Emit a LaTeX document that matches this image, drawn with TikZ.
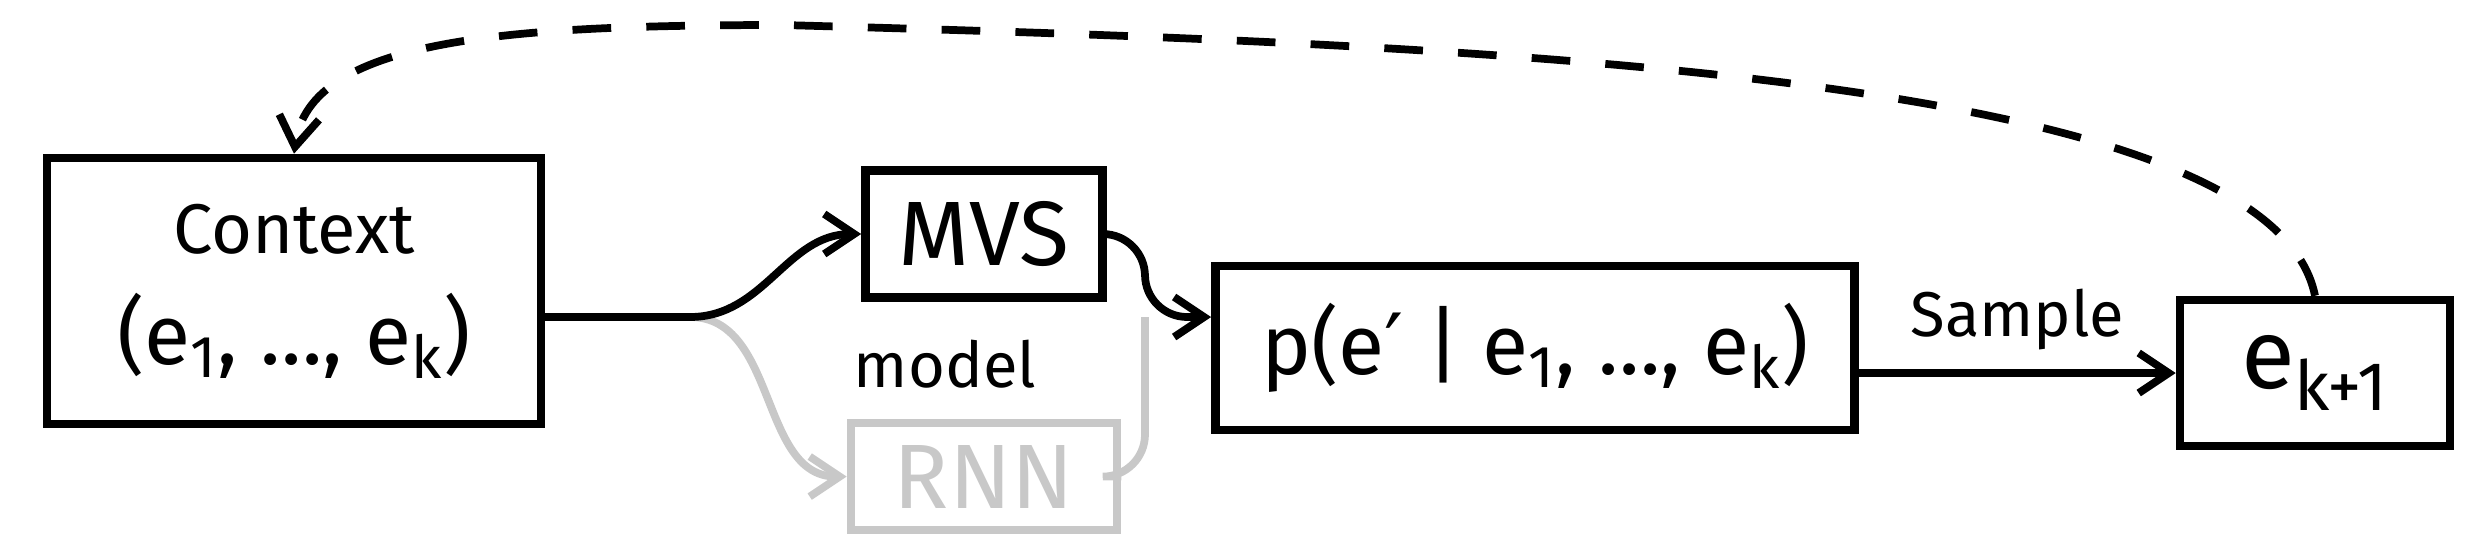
\documentclass[tikz,border=0pt]{standalone}
\usepackage{fontspec}
\setmainfont{Fira Sans}
\newfontfamily\symfont{DejaVu Sans}
\usepackage{tikz}
\usetikzlibrary{positioning,arrows.meta}
\usepackage{xcolor}
\definecolor{InkBlack}{RGB}{0,0,0}
\definecolor{InkGray}{RGB}{200,200,200}

\begin{document}
\begin{tikzpicture}[x=0.01cm, y=0.01cm,
    box/.style={rectangle, draw=InkBlack, line width=2.4pt, inner sep=0pt,
        align=center, text=InkBlack},
    faded/.style={box, draw=InkGray, text=InkGray},
    arr/.style={-{Straight Barb[length=3mm, width=4mm]}, line width=2.2pt, InkBlack},
    grayarr/.style={arr, InkGray},
    lbl/.style={font=\fontsize{18}{22}\selectfont, text=InkBlack},
]
\useasboundingbox (0,0) rectangle (2482,544);

\node[box, minimum width=4.94cm, minimum height=2.66cm] (ctx) at (294,253)
    {{\fontsize{20}{24}\selectfont Context}\\[10pt]
     {\fontsize{24}{28}\selectfont (e\textsubscript{1}, …, e\textsubscript{k})}};
\node[box, minimum width=2.37cm, minimum height=1.27cm,
    font=\fontsize{26}{30}\selectfont] (mvs) at (984,310) {MVS};
\node[faded, minimum width=2.66cm, minimum height=1.07cm,
    font=\fontsize{26}{30}\selectfont, below=1.17cm of mvs] (rnn) {RNN};
\node[lbl] (mdl) at (945,180) {model};
\node[box, minimum width=6.39cm, minimum height=1.64cm,
    font=\fontsize{24}{28}\selectfont] (prob) at (1535,196)
    {p(e{\symfont ′} | e\textsubscript{1}, …, e\textsubscript{k})};
\node[box, minimum width=2.70cm, minimum height=1.46cm,
    font=\fontsize{28}{32}\selectfont] (next) at (2315,171)
    {e\textsubscript{k+1}};

\coordinate (split) at (690,227);
\coordinate (join) at (1145,227);

% grey branch first, black on top
\draw[grayarr] (split) to[out=0, in=180] (rnn.west);
\draw[InkGray, line width=2.2pt, rounded corners=12pt] (rnn.east) -| (join);

\draw[line width=2.2pt] (ctx.east |- split) -- (split);
\draw[arr] (split) to[out=0, in=180] (mvs.west);
\draw[arr, rounded corners=12pt] (mvs.east) -| (join) -- (prob.west |- join);
\draw[arr] (prob.east |- next.west) -- node[lbl, above=2pt] {Sample} (next.west);

% feedback loop
\draw[arr, dash pattern=on 11pt off 10pt] (next.north)
    .. controls (2270,470) and (1500,499) .. (783,519)
    .. controls (500,519) and (310,504) .. (ctx.north);
\end{tikzpicture}
\end{document}
